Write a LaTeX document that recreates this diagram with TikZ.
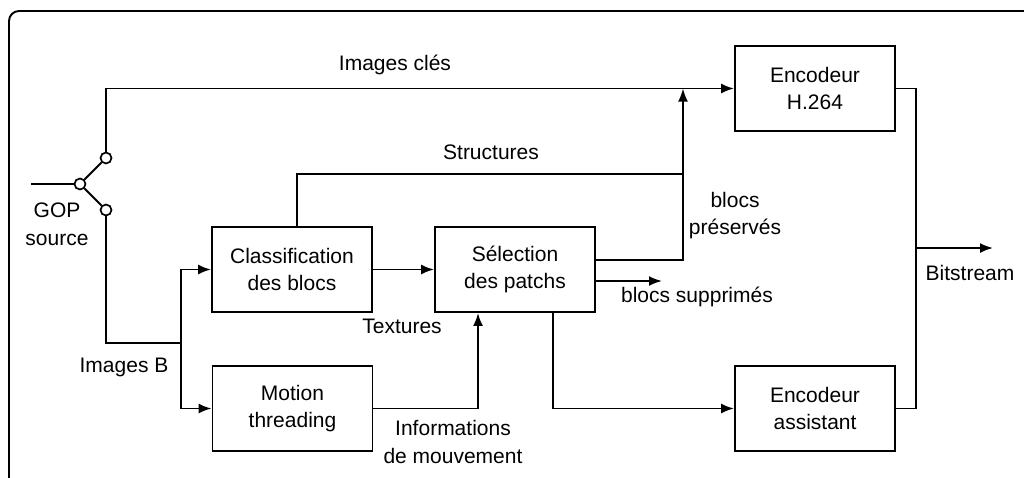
\documentclass[tikz,border=0pt]{standalone}
\usepackage{fontspec}
\setmainfont{Liberation Sans}
\usetikzlibrary{arrows.meta}
\begin{document}
\begin{tikzpicture}[x=1pt,y=-1pt,
  line width=1.9pt,
  every node/.style={font=\fontsize{21}{27.5}\selectfont, inner sep=0pt},
  blockbox/.style={draw, minimum width=160pt, minimum height=85pt, align=center},
  lbl/.style={anchor=base, align=center},
  swc/.style={draw, circle, fill=white, minimum size=11pt, line width=1.7pt},
  arr/.style={-{Latex[length=13pt,width=10pt]}}]
\useasboundingbox (0,0) rectangle (1024,477);
\begin{scope}
  \clip (0,0) rectangle (1024,477);
  \draw[rounded corners=10pt] (9,11) rectangle (1100,540);
\end{scope}

% blocks
\node[blockbox] (h264) at (815,88.5) {Encodeur\\H.264};
\node[blockbox] (assist) at (815,408.5) {Encodeur\\assistant};
\node[blockbox] (classif) at (292,269.5) {Classification\\des blocs};
\node[blockbox] (select) at (515,269.5) {Sélection\\des patchs};
\node[blockbox] (motion) at (292.5,408.5) {Motion\\threading};

% switch
\coordinate (gopin) at (31,184);
\node[swc] (swin) at (80,184) {};
\node[swc] (swup) at (106,158) {};
\node[swc] (swdn) at (106,210) {};
\draw (gopin) -- (swin);
\draw (swin) -- (swup);
\draw (swin) -- (swdn);

% key frames
\draw[arr] (swup.north) |- (h264.west);

% B frames
\coordinate (split) at (181,343);
\draw (swdn.south) |- (split);
\draw[arr] (split) |- (classif.west);
\draw[arr] (split) |- (motion.west);

% classification -> selection
\draw[arr] (classif.east) -- (select.west);

% structures
\coordinate (topj) at (683,88.5);
\coordinate (structj) at (683,174);
\draw ([xshift=5pt]classif.north) |- (structj);
\draw[arr] ([yshift=9.5pt]select.east) -| (topj);

% blocs supprimes
\coordinate (suppend) at (662,281);
\draw[arr] ([yshift=-11.5pt]select.east) -- (suppend);

% motion -> selection
\draw[arr] (motion.east) -| ([xshift=-37pt]select.south);

% selection -> assistant
\draw[arr] ([xshift=38pt]select.south) |- (assist.west);

% output bus
\coordinate (bus) at (916,248);
\coordinate (bitend) at (993,248);
\draw (h264.east) -| (bus) |- (assist.east);
\draw[arr] (bus) -- (bitend);

% labels
\node[lbl] (limg) at (395,70) {Images clés};
\node[lbl] (lstruct) at (491,159) {Structures};
\node[lbl] (lpres) at (735,234.5) {blocs\\préservés};
\node[lbl] (lsupp) at (697,302) {blocs supprimés};
\node[lbl] (ltext) at (402,333) {Textures};
\node[lbl] (linfo) at (453,463) {Informations\\de mouvement};
\node[lbl] (limgb) at (124,372) {Images B};
\node[lbl] (lgop) at (57,245) {GOP\\source};
\node[lbl] (lbit) at (970,280) {Bitstream};
\end{tikzpicture}
\end{document}
